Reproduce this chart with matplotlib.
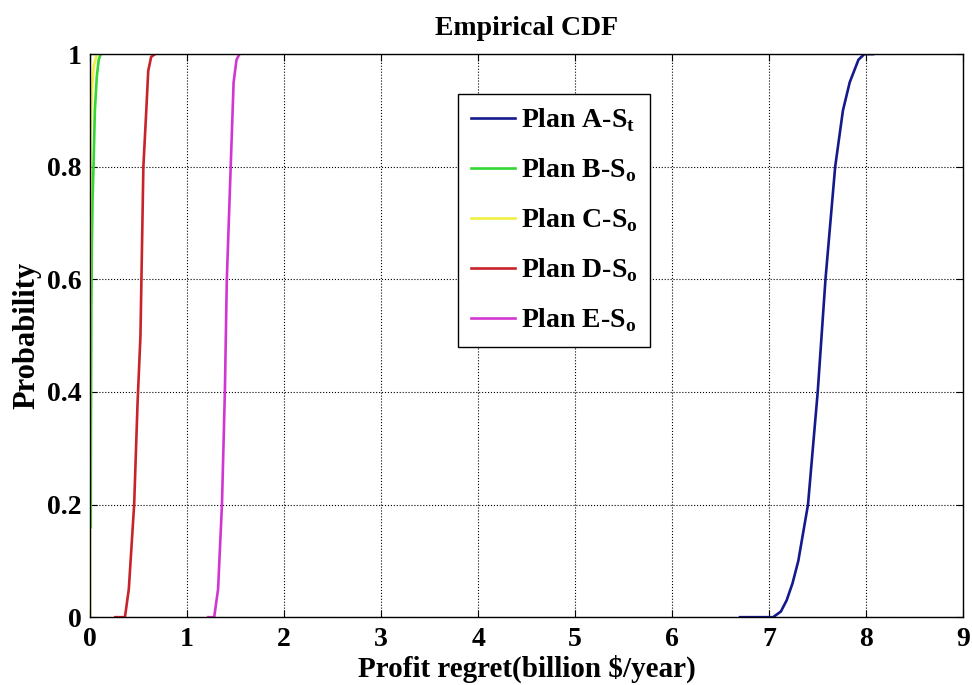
import matplotlib.pyplot as plt

plt.rcParams['font.family'] = 'Liberation Serif'
plt.rcParams['font.weight'] = 'bold'
plt.rcParams['mathtext.fontset'] = 'custom'
plt.rcParams['mathtext.rm'] = 'Liberation Serif:bold'
plt.rcParams['mathtext.bf'] = 'Liberation Serif:bold'

# empirical CDF curves, profit regret (billion $/year) vs probability
plan_a_x = [6.70, 7.04, 7.12, 7.18, 7.24, 7.30, 7.40, 7.50, 7.58, 7.68, 7.76, 7.83, 7.92, 7.98, 8.07]
plan_a_y = [0, 0, 0.01, 0.03, 0.06, 0.10, 0.20, 0.40, 0.60, 0.80, 0.90, 0.95, 0.99, 1.0, 1.0]

plan_b_x = [0.008, 0.009, 0.011, 0.014, 0.019, 0.026, 0.036, 0.05, 0.07, 0.09, 0.11]
plan_b_y = [0.16, 0.30, 0.40, 0.55, 0.66, 0.74, 0.80, 0.90, 0.96, 0.99, 1.0]

plan_c_x = [0, 0, 0.005, 0.02, 0.04, 0.07]
plan_c_y = [0, 0.50, 0.85, 0.94, 0.98, 1.0]

plan_d_x = [0.26, 0.36, 0.40, 0.455, 0.49, 0.52, 0.55, 0.58, 0.60, 0.63, 0.67]
plan_d_y = [0, 0, 0.05, 0.20, 0.38, 0.50, 0.80, 0.90, 0.97, 0.995, 1.0]

plan_e_x = [1.22, 1.28, 1.32, 1.36, 1.39, 1.41, 1.45, 1.48, 1.51, 1.54]
plan_e_y = [0, 0, 0.05, 0.20, 0.40, 0.60, 0.80, 0.95, 0.99, 1.0]

labels = [r'Plan A-S$_\mathrm{t}$', r'Plan B-S$_\mathrm{o}$', r'Plan C-S$_\mathrm{o}$',
          r'Plan D-S$_\mathrm{o}$', r'Plan E-S$_\mathrm{o}$']
colors = ['#14198c', '#33d633', '#f0f040', '#c8232a', '#d236d2']

xticks = [0, 1, 2, 3, 4, 5, 6, 7, 8, 9]
yticks = [0, 0.2, 0.4, 0.6, 0.8, 1]
yticklabels = ['0', '0.2', '0.4', '0.6', '0.8', '1']

fig = plt.figure(figsize=(9.72, 6.85), dpi=100)
ax = fig.add_axes([0.0926, 0.099, 0.8984, 0.822])

curves = [(plan_a_x, plan_a_y), (plan_b_x, plan_b_y), (plan_c_x, plan_c_y),
          (plan_d_x, plan_d_y), (plan_e_x, plan_e_y)]
for (xs, ys), c, lab in zip(curves, colors, labels):
    ax.plot(xs, ys, color=c, linewidth=1.9, label=lab)

ax.set_xlim(0, 9)
ax.set_ylim(0, 1)
ax.set_xticks(xticks)
ax.set_yticks(yticks)
ax.set_yticklabels(yticklabels)
ax.tick_params(direction='in', top=True, right=True, labelsize=20, length=5)
ax.tick_params(axis='x', pad=7)
ax.tick_params(axis='y', pad=6)
ax.grid(True, color='black', linestyle=':', linewidth=0.8)
for sp in ax.spines.values():
    sp.set_linewidth(1.0)

ax.set_title('Empirical CDF', fontsize=20, fontweight='bold', pad=14)
ax.set_xlabel('Profit regret(billion $/year)', fontsize=21, fontweight='bold')
ax.xaxis.set_label_coords(0.5, -0.066)
ax.set_ylabel('Probability', fontsize=22, fontweight='bold', labelpad=4)

leg = ax.legend(loc='upper left', bbox_to_anchor=(0.406, 0.954), fontsize=20,
                fancybox=False, edgecolor='black', framealpha=1, handlelength=1.6,
                handletextpad=0.2, labelspacing=0.8, borderpad=0.45)
leg.get_frame().set_linewidth(1.0)

fig.savefig('out.png', dpi=100)
